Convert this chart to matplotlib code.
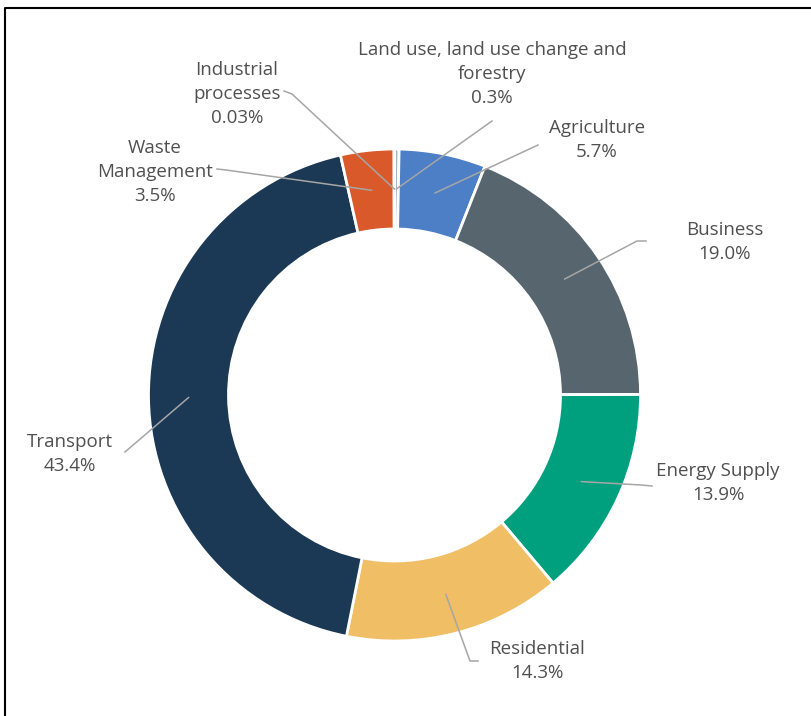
import numpy as np
import matplotlib.pyplot as plt

# data, clockwise from 12 o'clock
sectors = ["Land use, land use change and\nforestry", "Agriculture", "Business",
           "Energy Supply", "Residential", "Transport", "Waste\nManagement",
           "Industrial\nprocesses"]
shares = [0.3, 5.7, 19.0, 13.9, 14.3, 43.4, 3.5, 0.03]
share_labels = ["0.3%", "5.7%", "19.0%", "13.9%", "14.3%", "43.4%", "3.5%", "0.03%"]
colors = ["#a9b4c2", "#4d7fc6", "#56656e", "#00a07f", "#efbe65", "#1b3954",
          "#d9592a", "#a33b20"]

W, H = 812, 716
plt.rcParams['font.family'] = ['Open Sans', 'DejaVu Sans']

fig = plt.figure(figsize=(W / 100, H / 100), dpi=100)
ax = fig.add_axes([0, 0, 1, 1])

cx, cy = 394.5, H - 395
wedges, _ = ax.pie(shares, colors=colors, startangle=90, counterclock=False,
                   radius=246, center=(cx, cy),
                   wedgeprops=dict(width=80, edgecolor="white", linewidth=2))

# label layout in pixel coords (y down): text centre, leader line anchor points
layout = [
    ((492, 74), [(492, 121)]),
    ((597, 140), [(538, 145)]),
    ((725, 242), [(646, 241), (637, 241)]),
    ((718, 483), [(652, 486), (641, 485)]),
    ((537, 661), [(478, 661), (470, 661)]),
    ((70, 454), [(125, 452)]),
    ((155, 172), [(217, 169), (226, 170)]),
    ((237, 94), [(284, 91), (292, 94)]),
]

for w, name, lab, (tpos, anchor) in zip(wedges, sectors, share_labels, layout):
    ang = np.radians((w.theta1 + w.theta2) / 2)
    r = w.r - w.width / 2
    px = w.center[0] + r * np.cos(ang)
    py = w.center[1] + r * np.sin(ang)
    xs = [a[0] for a in anchor] + [px]
    ys = [H - a[1] for a in anchor] + [py]
    ax.plot(xs, ys, color="#a6a6a6", lw=1.1, zorder=3)
    ax.text(tpos[0], H - tpos[1], name + "\n" + lab, ha="center", va="center",
            fontsize=13.5, color="#505050", linespacing=1.45)

# frame
ax.plot([5, 5, W], [0, H - 8, H - 8], color="black", lw=1.5, clip_on=False)

ax.set_xlim(0, W)
ax.set_ylim(0, H)
ax.set_aspect("equal")
ax.axis("off")

fig.savefig("out.png", dpi=100)
